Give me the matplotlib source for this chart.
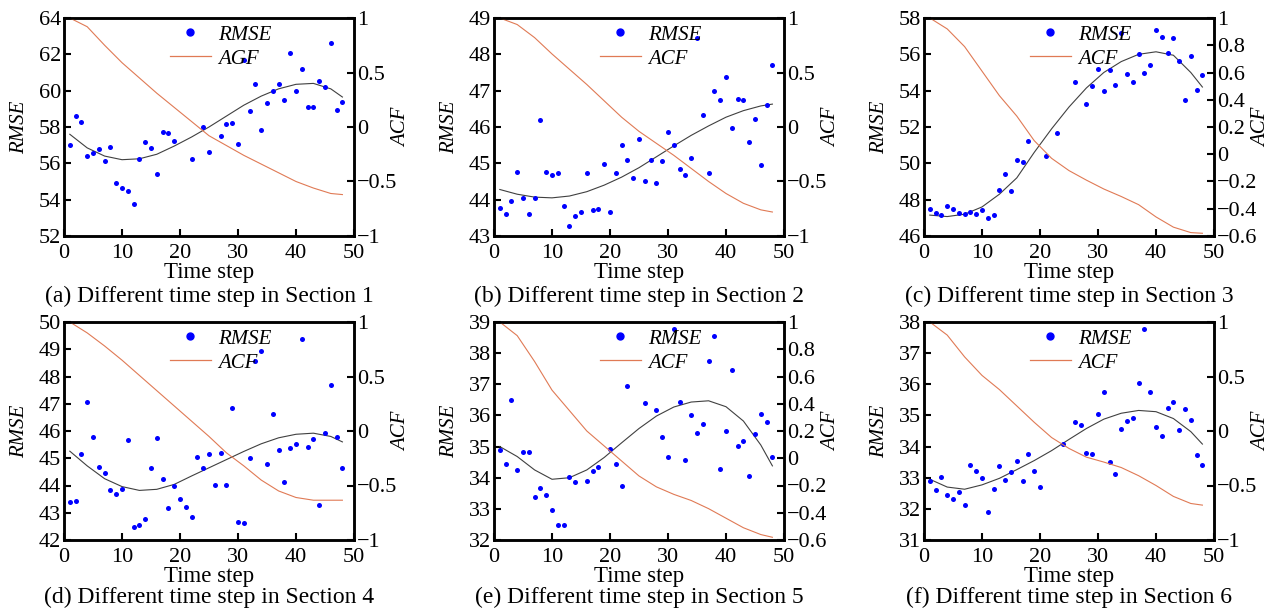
#!/usr/bin/env python3
"""
plot.py - RMSE versus time step with the ACF of each section (six panels).
"""

import matplotlib

matplotlib.use("Agg")
import matplotlib.pyplot as plt
from matplotlib.lines import Line2D

plt.rcParams["font.family"] = ["Liberation Serif", "DejaVu Serif"]

CURVE_STEPS = [1, 4, 7, 10, 13, 16, 19, 22, 25, 28, 31, 34, 37, 40, 43, 46, 48]

# --- Section 1 ---
STEPS_A = list(range(1, 20)) + [22, 24, 25] + list(range(27, 49))
RMSE_A = [57.0, 58.62, 58.26, 56.41, 56.56, 56.81, 56.13, 56.90, 54.89, 54.65,
          54.47, 53.76, 56.24, 57.18, 56.85, 55.42, 57.73, 57.65, 57.21,
          56.24, 58.0, 56.63,
          57.52, 58.16, 58.20, 57.07, 61.70, 58.86, 60.38, 57.84, 59.34, 59.98,
          60.38, 59.48, 62.06, 59.98, 61.22, 59.10, 59.12, 60.54, 60.21, 62.63,
          58.95, 59.39]
FIT_A = [57.6, 56.85, 56.4, 56.2, 56.25, 56.5, 56.95, 57.45, 58.0, 58.6, 59.2,
         59.7, 60.1, 60.35, 60.4, 60.1, 59.65]
ACF_A = [1.0, 0.92, 0.75, 0.59, 0.45, 0.31, 0.18, 0.05, -0.08, -0.17, -0.26,
         -0.34, -0.42, -0.50, -0.56, -0.61, -0.62]

# --- Section 2 ---
STEPS_B = list(range(1, 49))
RMSE_B = [43.78, 43.61, 43.97, 44.76, 44.04, 43.61, 44.04, 46.20, 44.75, 44.68,
          44.74, 43.83, 43.27, 43.55, 43.67, 44.74, 43.71, 43.74, 44.98, 43.66,
          44.74, 45.51, 45.09, 44.59, 45.68, 44.51, 45.08, 44.45, 45.06, 45.87,
          45.50, 44.85, 44.67, 45.15, 48.46, 46.34, 44.74, 47.0, 46.73, 47.38,
          45.97, 46.78, 46.75, 45.59, 46.21, 44.95, 46.60, 47.70]
FIT_B = [44.28, 44.15, 44.07, 44.05, 44.1, 44.22, 44.4, 44.62, 44.88, 45.18,
         45.48, 45.77, 46.03, 46.27, 46.45, 46.58, 46.63]
ACF_B = [1.0, 0.94, 0.82, 0.67, 0.53, 0.39, 0.24, 0.09, -0.04, -0.15, -0.26,
         -0.38, -0.50, -0.61, -0.70, -0.76, -0.78]

# --- Section 3 ---
STEPS_C = list(range(1, 19)) + [21, 23, 26] + list(range(28, 49))
RMSE_C = [47.50, 47.28, 47.15, 47.63, 47.49, 47.26, 47.19, 47.30, 47.19, 47.45,
          46.99, 47.14, 48.53, 49.43, 48.46, 50.21, 50.06, 51.22,
          50.41, 51.68, 54.49,
          53.24, 54.25, 55.17, 53.96, 55.15, 54.32, 57.15, 54.89, 54.45, 56.0,
          54.97, 55.43, 57.34, 56.93, 56.07, 56.92, 55.61, 53.50, 55.89, 54.01,
          54.86]
FIT_C = [47.15, 47.07, 47.2, 47.6, 48.3, 49.2, 50.6, 51.9, 53.1, 54.15, 55.0,
         55.6, 56.0, 56.14, 55.95, 55.0, 54.2]
ACF_C = [1.0, 0.92, 0.79, 0.61, 0.43, 0.28, 0.10, -0.03, -0.12, -0.19, -0.255,
         -0.31, -0.37, -0.46, -0.535, -0.575, -0.58]

# --- Section 4 ---
STEPS_D = list(range(1, 49))
RMSE_D = [43.41, 43.43, 45.15, 47.08, 45.79, 44.68, 44.46, 43.83, 43.70, 43.87,
          45.67, 42.49, 42.55, 42.76, 44.65, 45.76, 44.25, 43.19, 43.97, 43.49,
          43.22, 42.84, 45.05, 44.63, 45.14, 44.02, 45.21, 44.03, 46.83, 42.67,
          42.61, 45.02, 48.57, 48.93, 44.80, 46.61, 45.29, 44.13, 45.39, 45.54,
          49.38, 45.41, 45.71, 43.30, 45.93, 47.68, 45.79, 44.64]
FIT_D = [45.26, 44.72, 44.25, 43.96, 43.82, 43.86, 44.04, 44.35, 44.65, 44.95,
         45.25, 45.53, 45.75, 45.88, 45.92, 45.8, 45.6]
ACF_D = [1.0, 0.90, 0.78, 0.65, 0.51, 0.37, 0.23, 0.09, -0.05, -0.20, -0.32,
         -0.45, -0.55, -0.61, -0.635, -0.635, -0.635]

# --- Section 5 ---
STEPS_E = list(range(1, 15)) + [16, 17, 18, 20, 21, 22, 23, 26] + list(range(28, 49))
RMSE_E = [34.90, 34.44, 36.48, 34.25, 34.84, 34.82, 33.37, 33.67, 33.44, 32.95,
          32.48, 32.48, 34.02, 33.87,
          33.89, 34.22, 34.35, 34.91, 34.44, 33.75, 36.96, 36.40,
          36.17, 35.32, 34.68, 38.78, 36.43, 34.56, 36.02, 35.44, 35.71, 37.75,
          38.56, 34.29, 35.50, 37.46, 35.03, 35.17, 34.04, 35.40, 36.05, 35.78,
          34.68]
FIT_E = [35.0, 34.68, 34.25, 33.95, 34.0, 34.25, 34.65, 35.12, 35.58, 35.98,
         36.27, 36.43, 36.47, 36.28, 35.82, 35.05, 34.38]
ACF_E = [1.0, 0.90, 0.71, 0.50, 0.35, 0.20, 0.09, -0.02, -0.13, -0.21, -0.265,
         -0.31, -0.37, -0.44, -0.51, -0.56, -0.58]

# --- Section 6 ---
STEPS_F = list(range(1, 21)) + [24] + list(range(26, 49))
RMSE_F = [32.90, 32.62, 33.03, 32.46, 32.33, 32.54, 32.11, 33.40, 33.23, 32.98,
          31.89, 32.65, 33.38, 32.92, 33.17, 33.53, 32.91, 33.77, 33.23, 32.71,
          34.07,
          34.80, 34.68, 33.80, 33.75, 35.03, 35.75, 33.51, 33.11, 34.56, 34.81,
          34.91, 36.04, 37.76, 35.75, 34.62, 34.33, 35.24, 35.43, 34.53, 35.20,
          34.85, 33.72, 33.41]
FIT_F = [32.95, 32.7, 32.63, 32.77, 32.98, 33.26, 33.55, 33.87, 34.23, 34.58,
         34.88, 35.07, 35.16, 35.12, 34.9, 34.48, 34.08]
ACF_F = [1.0, 0.88, 0.68, 0.51, 0.38, 0.23, 0.08, -0.06, -0.16, -0.24, -0.285,
         -0.335, -0.41, -0.50, -0.60, -0.665, -0.68]

CAPTIONS = [
    "(a) Different time step in Section 1",
    "(b) Different time step in Section 2",
    "(c) Different time step in Section 3",
    "(d) Different time step in Section 4",
    "(e) Different time step in Section 5",
    "(f) Different time step in Section 6",
]
LEFT_TICKS = [
    [52, 54, 56, 58, 60, 62, 64],
    [43, 44, 45, 46, 47, 48, 49],
    [46, 48, 50, 52, 54, 56, 58],
    [42, 43, 44, 45, 46, 47, 48, 49, 50],
    [32, 33, 34, 35, 36, 37, 38, 39],
    [31, 32, 33, 34, 35, 36, 37, 38],
]
RIGHT_TICKS = [
    [-1, -0.5, 0, 0.5, 1],
    [-1, -0.5, 0, 0.5, 1],
    [-0.6, -0.4, -0.2, 0, 0.2, 0.4, 0.6, 0.8, 1],
    [-1, -0.5, 0, 0.5, 1],
    [-0.6, -0.4, -0.2, 0, 0.2, 0.4, 0.6, 0.8, 1],
    [-1, -0.5, 0, 0.5, 1],
]
ACF_NAMES = ["AGF", "ACF", "ACF", "ACF", "ACF", "ACF"]

PANELS = [
    (STEPS_A, RMSE_A, FIT_A, ACF_A),
    (STEPS_B, RMSE_B, FIT_B, ACF_B),
    (STEPS_C, RMSE_C, FIT_C, ACF_C),
    (STEPS_D, RMSE_D, FIT_D, ACF_D),
    (STEPS_E, RMSE_E, FIT_E, ACF_E),
    (STEPS_F, RMSE_F, FIT_F, ACF_F),
]

DOT_COLOR = "#0000ff"
ACF_COLOR = "#e07a55"
FIT_COLOR = "#404040"
FS = 15
TICK_FS = 16
W, H = 1276.0, 611.0


def fmt_tick(v):
    s = f"{v:g}"
    return s.replace("-", "\u2212")


def plot_panel(fig, rect, panel, lticks, rticks, acf_name):
    steps, rmse, fit, acf = panel
    ax = fig.add_axes(rect)
    ax2 = ax.twinx()

    ax.scatter(steps, rmse, s=13, color=DOT_COLOR, zorder=3, linewidths=0)
    ax.plot(CURVE_STEPS, fit, color=FIT_COLOR, linewidth=0.8, zorder=2)
    ax2.plot(CURVE_STEPS, acf, color=ACF_COLOR, linewidth=0.8)

    ax.set_xlim(0, 50)
    ax.set_ylim(lticks[0], lticks[-1])
    ax2.set_ylim(rticks[0], rticks[-1])
    ax.set_xticks([0, 10, 20, 30, 40, 50])
    ax.set_yticks(lticks)
    ax.set_yticklabels([fmt_tick(v) for v in lticks])
    ax2.set_yticks(rticks)
    ax2.set_yticklabels([fmt_tick(v) for v in rticks])

    for a in (ax, ax2):
        a.tick_params(direction="in", length=5, width=1.5, labelsize=TICK_FS,
                      pad=2)
        for sp in a.spines.values():
            sp.set_linewidth(1.8)
    ax.tick_params(axis="x", pad=6)

    ax.set_xlabel("Time step", fontsize=16.5)
    ax.xaxis.set_label_coords(0.5, -0.12)
    ax.set_ylabel("RMSE", fontsize=FS, style="italic", va="center")
    ax.yaxis.set_label_coords(-0.152, 0.5)
    ax2.set_ylabel("ACF", fontsize=FS, style="italic", va="center")
    ax2.yaxis.set_label_coords(1.165, 0.5)

    handles = [
        Line2D([], [], linestyle="none", marker="o", markersize=5,
               color=DOT_COLOR),
        Line2D([], [], color=ACF_COLOR, linewidth=0.9),
    ]
    leg = ax2.legend(handles, ["RMSE", acf_name], loc="upper left",
                     bbox_to_anchor=(0.366, 0.967), frameon=False,
                     fontsize=FS, handlelength=1.95, handletextpad=0.35,
                     labelspacing=0.2, borderpad=0, borderaxespad=0)
    for t in leg.get_texts():
        t.set_style("italic")
    return ax


def main():
    fig = plt.figure(figsize=(12.76, 6.11), dpi=100)
    lefts = [64, 494, 924]
    tops = [18, 322]
    caption_y = [296, 597]
    aw, ah = 290, 218
    for i, panel in enumerate(PANELS):
        r, c = divmod(i, 3)
        rect = [lefts[c] / W, 1 - (tops[r] + ah) / H, aw / W, ah / H]
        plot_panel(fig, rect, panel, LEFT_TICKS[i], RIGHT_TICKS[i],
                   ACF_NAMES[i])
        fig.text((lefts[c] + aw / 2) / W, 1 - caption_y[r] / H, CAPTIONS[i],
                 ha="center", va="center", fontsize=17)
    fig.savefig("out.png", dpi=100)
    plt.close(fig)


if __name__ == "__main__":
    main()
